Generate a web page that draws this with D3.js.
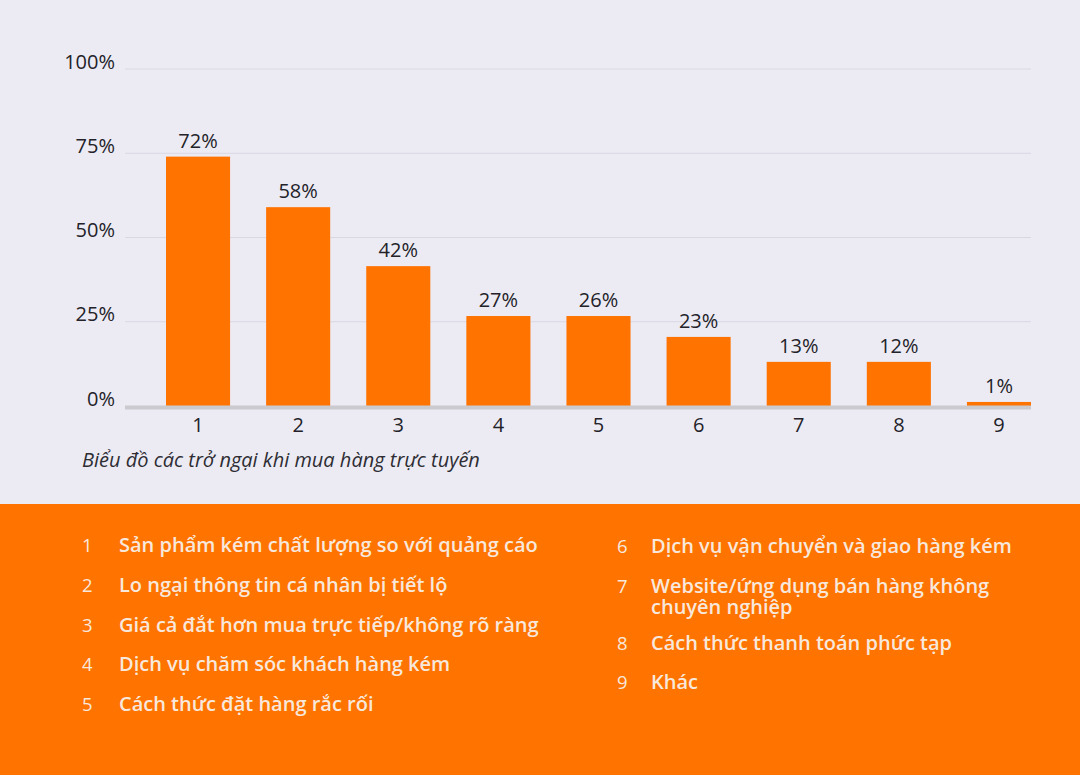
<!DOCTYPE html>
<html lang="vi">
  <head>
    <meta charset="UTF-8" />
    <title>Biểu đồ các trở ngại khi mua hàng trực tuyến</title>
    <style>
      html, body { margin: 0; padding: 0; background: #ecebf4; }
      svg { display: block; }
      text { font-family: "Open Sans", Lato, sans-serif; }
    </style>
  </head>

  <body>
    <div id="chart"></div>

  <script src="https://cdnjs.cloudflare.com/ajax/libs/d3/7.8.5/d3.min.js"></script>
    <script>

// chart data (bar heights, labels as printed)
var categories = ["1", "2", "3", "4", "5", "6", "7", "8", "9"];
var barValues = [74, 59, 41.5, 26.7, 26.7, 20.5, 13.1, 13.1, 1.2];
var valueLabels = ["72%", "58%", "42%", "27%", "26%", "23%", "13%", "12%", "1%"];
var yTicks = [0, 25, 50, 75, 100];

var legendLeft = [
  ["1", "Sản phẩm kém chất lượng so với quảng cáo"],
  ["2", "Lo ngại thông tin cá nhân bị tiết lộ"],
  ["3", "Giá cả đắt hơn mua trực tiếp/không rõ ràng"],
  ["4", "Dịch vụ chăm sóc khách hàng kém"],
  ["5", "Cách thức đặt hàng rắc rối"]
];
var legendRight = [
  ["6", ["Dịch vụ vận chuyển và giao hàng kém"]],
  ["7", ["Website/ứng dụng bán hàng không", "chuyên nghiệp"]],
  ["8", ["Cách thức thanh toán phức tạp"]],
  ["9", ["Khác"]]
];

var w = 1080;
var h = 775;
var orange = "#ff7300";
var ink = "#232228";
var cream = "#f8e8dc";

var svg = d3.select("#chart").append("svg")
            .attr("width", w)
            .attr("height", h);

svg.append("rect")
   .attr("width", w).attr("height", h)
   .attr("fill", "#ecebf4");

// ---- bar chart ----
var gridLeft = 125, gridRight = 1031;

var x = d3.scaleBand()
          .domain(categories)
          .range([166, 1031])
          .paddingInner(0.36)
          .paddingOuter(0);

var y = d3.scaleLinear()
          .domain([0, 100])
          .range([406, 69]);

// gridlines
svg.selectAll("line.grid")
   .data(yTicks.slice(1))
   .enter()
   .append("line")
   .attr("class", "grid")
   .attr("x1", gridLeft).attr("x2", gridRight)
   .attr("y1", function(d) { return y(d); })
   .attr("y2", function(d) { return y(d); })
   .attr("stroke", "#d9d7e2")
   .attr("stroke-width", 1.2);

// y labels
svg.selectAll("text.ytick")
   .data(yTicks)
   .enter()
   .append("text")
   .attr("class", "ytick")
   .attr("x", 115)
   .attr("y", function(d) { return y(d) - 0.5; })
   .attr("text-anchor", "end")
   .attr("fill", ink)
   .style("font-size", "20px")
   .text(function(d) { return d + "%"; });

// bars
svg.selectAll("rect.bar")
   .data(barValues)
   .enter()
   .append("rect")
   .attr("class", "bar")
   .attr("x", function(d, i) { return x(categories[i]); })
   .attr("y", function(d) { return y(d); })
   .attr("width", x.bandwidth())
   .attr("height", function(d) { return y(0) - y(d); })
   .attr("fill", orange);

// baseline
svg.append("line")
   .attr("x1", gridLeft).attr("x2", gridRight)
   .attr("y1", y(0) + 1.5).attr("y2", y(0) + 1.5)
   .attr("stroke", "#cacacf")
   .attr("stroke-width", 4);

// value labels
svg.selectAll("text.val")
   .data(barValues)
   .enter()
   .append("text")
   .attr("class", "val")
   .attr("x", function(d, i) { return x(categories[i]) + x.bandwidth() / 2; })
   .attr("y", function(d) { return y(d) - 9; })
   .attr("text-anchor", "middle")
   .attr("fill", ink)
   .style("font-size", "20px")
   .text(function(d, i) { return valueLabels[i]; });

// category labels
svg.selectAll("text.cat")
   .data(categories)
   .enter()
   .append("text")
   .attr("class", "cat")
   .attr("x", function(d) { return x(d) + x.bandwidth() / 2; })
   .attr("y", 432)
   .attr("text-anchor", "middle")
   .attr("fill", ink)
   .style("font-size", "20px")
   .text(function(d) { return d; });

// caption
svg.append("text")
   .attr("x", 82)
   .attr("y", 467)
   .attr("fill", "#2e2d33")
   .style("font-size", "20px")
   .style("font-style", "italic")
   .text("Biểu đồ các trở ngại khi mua hàng trực tuyến");

// ---- legend panel ----
svg.append("rect")
   .attr("x", 0).attr("y", 504)
   .attr("width", w).attr("height", h - 504)
   .attr("fill", orange);

var left = svg.selectAll("g.legL")
              .data(legendLeft)
              .enter()
              .append("g")
              .attr("class", "legL")
              .attr("transform", function(d, i) { return "translate(0," + (552 + i * 39.8) + ")"; });

left.append("text")
    .attr("x", 82)
    .attr("fill", cream)
    .style("font-size", "18.5px")
    .text(function(d) { return d[0]; });

left.append("text")
    .attr("x", 119)
    .attr("fill", cream)
    .style("font-size", "20px")
    .style("font-weight", "600")
    .text(function(d) { return d[1]; });

var rightY = [553, 593, 650, 689];

var right = svg.selectAll("g.legR")
               .data(legendRight)
               .enter()
               .append("g")
               .attr("class", "legR")
               .attr("transform", function(d, i) { return "translate(0," + rightY[i] + ")"; });

right.append("text")
     .attr("x", 617)
     .attr("fill", cream)
     .style("font-size", "18.5px")
     .text(function(d) { return d[0]; });

right.append("text")
     .attr("x", 651)
     .attr("fill", cream)
     .style("font-size", "20px")
     .style("font-weight", "600")
     .selectAll("tspan")
     .data(function(d) { return d[1]; })
     .enter()
     .append("tspan")
     .attr("x", 651)
     .attr("dy", function(d, i) { return i === 0 ? 0 : 21; })
     .text(function(d) { return d; });

</script>

  </body>
</html>
